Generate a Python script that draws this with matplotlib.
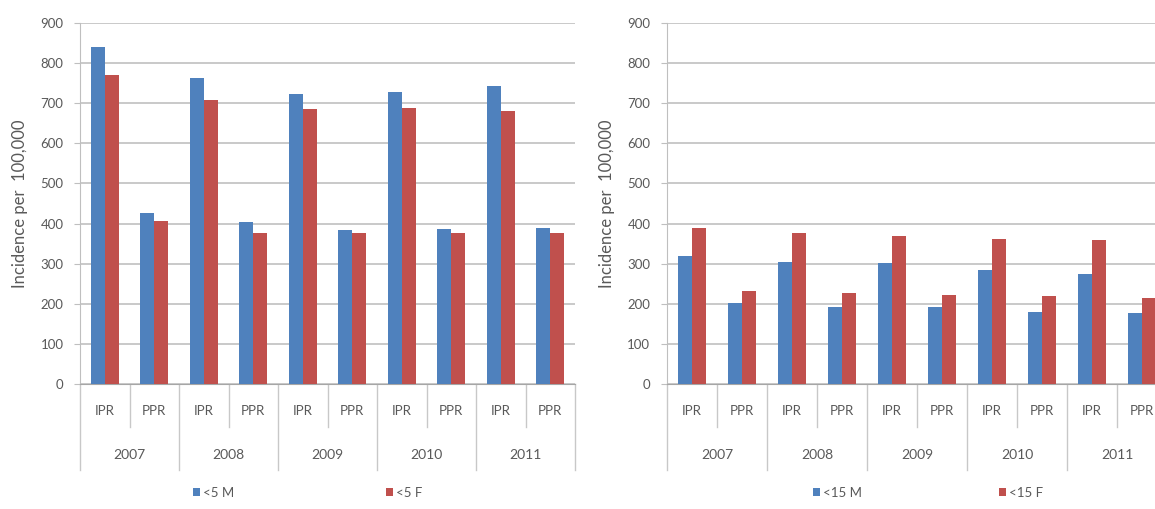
import numpy as np
import matplotlib
matplotlib.use("Agg")
import matplotlib.pyplot as plt
from matplotlib.transforms import blended_transform_factory

plt.rcParams['font.family'] = ['Lato', 'DejaVu Sans']

years = ['2007', '2008', '2009', '2010', '2011']
rates = ['IPR', 'PPR']

# under 5 (left panel), order: 2007 IPR, 2007 PPR, 2008 IPR, ...
u5_male = [840, 427, 764, 403, 722, 385, 728, 387, 743, 389]
u5_female = [770, 406, 707, 377, 685, 377, 687, 377, 681, 376]
# under 15 (right panel)
u15_male = [319, 201, 305, 191, 301, 191, 283, 180, 274, 176]
u15_female = [390, 232, 376, 226, 370, 222, 361, 220, 358, 215]

# data, legend names, axes rect, legend centre x, legend column spacing
panels = [
    (u5_male, u5_female, ['<5 M', '<5 F'], [0.0693, 0.2456, 0.4286, 0.7092], 0.46, 11.5),
    (u15_male, u15_female, ['<15 M', '<15 F'], [0.5775, 0.2456, 0.4329, 0.7092], 0.522, 10.4),
]

blue = '#4F81BD'
red = '#C0504D'
grey_txt = '#595959'
grid_c = '#C0C0C0'

fig = plt.figure(figsize=(11.55, 5.09), dpi=100)

for male, female, names, rect, leg_x, colsp in panels:
    ax = fig.add_axes(rect)
    n = len(male)
    x = np.arange(n)
    w = 0.28
    b1 = ax.bar(x - w / 2, male, w, color=blue, label=names[0], zorder=3)
    b2 = ax.bar(x + w / 2, female, w, color=red, label=names[1], zorder=3)

    ax.set_xlim(-0.5, n - 0.5)
    ax.set_ylim(0, 900)
    ax.set_yticks(range(0, 901, 100))
    ax.yaxis.grid(True, color=grid_c, linewidth=1.2, zorder=0)
    ax.set_axisbelow(True)
    for s in ['top', 'right']:
        ax.spines[s].set_visible(False)
    ax.spines['left'].set_color('#BFBFBF')
    ax.spines['bottom'].set_color('#A6A6A6')
    ax.tick_params(axis='y', colors='#BFBFBF', length=4, labelcolor=grey_txt,
                   labelsize=9.5, pad=8)
    ax.set_xticks([])
    ax.set_ylabel('Incidence per  100,000', color=grey_txt, fontsize=12, labelpad=9)

    tr = blended_transform_factory(ax.transData, ax.transAxes)
    for i in range(n):
        ax.text(x[i], -0.075, rates[i % 2], transform=tr, ha='center', va='center',
                fontsize=9.5, color=grey_txt)
    for j, yr in enumerate(years):
        ax.text(2 * j + 0.5, -0.197, yr, transform=tr, ha='center', va='center',
                fontsize=10, color=grey_txt)
    for k in range(n + 1):
        xs = k - 0.5
        bottom = -0.238 if k % 2 == 0 else -0.119
        ax.plot([xs, xs], [0, bottom], transform=tr, color='#C8C8C8',
                linewidth=1, clip_on=False)

    ax.legend(handles=[b1, b2], loc='center', bbox_to_anchor=(leg_x, -0.302), ncol=2,
              frameon=False, fontsize=9.5, handlelength=0.55, handleheight=0.55,
              handletextpad=0.2, columnspacing=colsp, labelcolor=grey_txt)

fig.savefig('out.png', dpi=100)
